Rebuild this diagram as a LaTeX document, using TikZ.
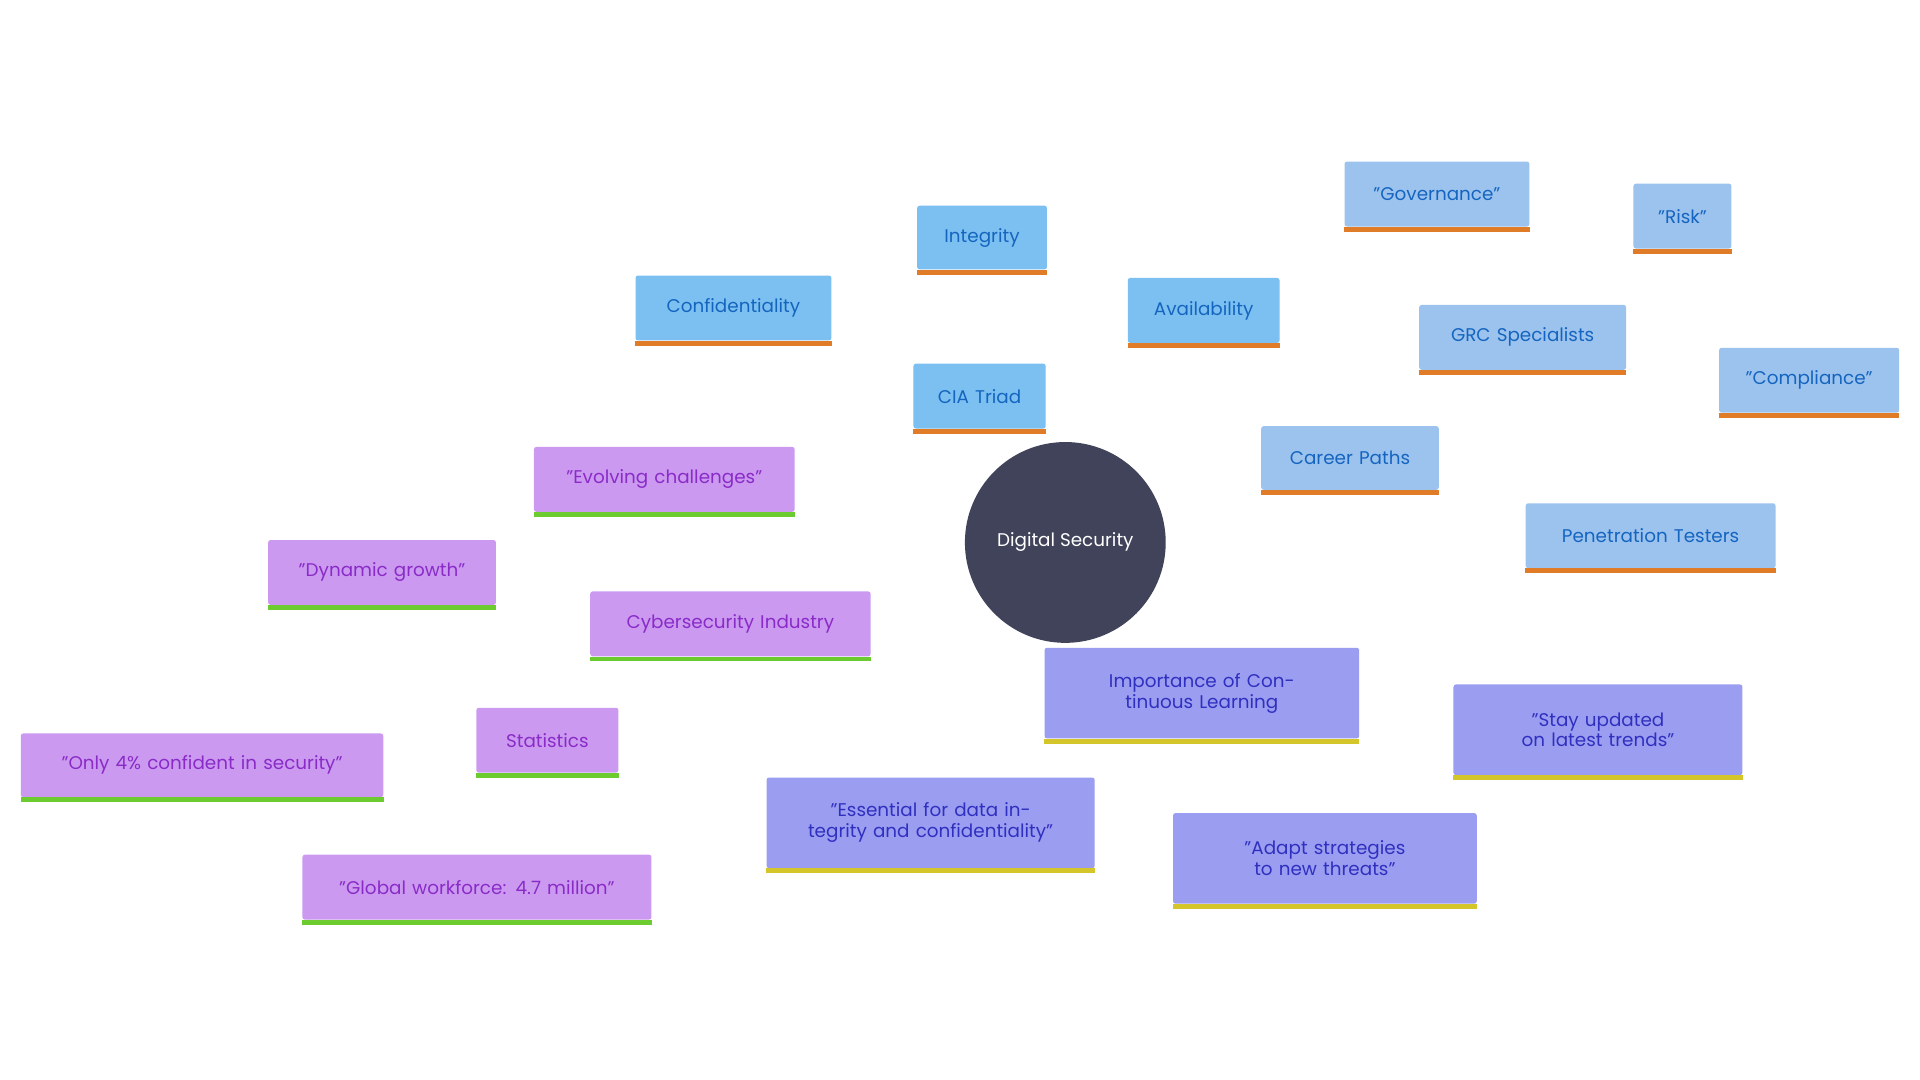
\documentclass[tikz,border=0pt]{standalone}
\usepackage{fontspec}
\setmainfont{Poppins}
\usetikzlibrary{backgrounds}
\definecolor{bA}{HTML}{7BC0F0}\definecolor{tA}{HTML}{1565C0}
\definecolor{bB}{HTML}{9CC3EE}
\definecolor{bP}{HTML}{CB9AF0}\definecolor{tP}{HTML}{8A2BC8}
\definecolor{bI}{HTML}{9B9DF0}\definecolor{tI}{HTML}{3030C0}
\definecolor{uO}{HTML}{E07B28}\definecolor{uG}{HTML}{6CCB2E}\definecolor{uY}{HTML}{D4C62A}
\definecolor{ctr}{HTML}{404359}
\begin{document}
\begin{tikzpicture}[x=1pt,y=-1pt,
 bx/.style={rectangle,rounded corners=2pt,inner sep=0pt,align=center,font=\fontsize{15}{17}\selectfont},
 ln/.style={line width=3.5pt}]
\useasboundingbox[fill=white] (0,0) rectangle (1568,882);
\newcommand\bxn[8]{\node[bx,fill=#6,text=#7,minimum width=#4-#2,minimum height=#5-#3,text width=#4-#2-16] (#1) at ({(#2+#4)/2},{(#3+#5)/2}) {#8};}
\node[circle,fill=ctr,minimum size=164,text=white,font=\fontsize{15}{17}\selectfont] (ds) at (870,443) {Digital Security};
\bxn{conf}{519}{225}{679}{278}{bA}{tA}{Confidentiality}
\bxn{integ}{749}{168}{855}{220}{bA}{tA}{Integrity}
\bxn{avail}{921}{227}{1045}{280}{bA}{tA}{Availability}
\bxn{cia}{746}{297}{854}{350}{bA}{tA}{CIA Triad}
\bxn{gov}{1098}{132}{1249}{185}{bB}{tA}{"Governance"}
\bxn{risk}{1334}{150}{1414}{203}{bB}{tA}{"Risk"}
\bxn{grc}{1159}{249}{1328}{302}{bB}{tA}{GRC Specialists}
\bxn{comp}{1404}{284}{1551}{337}{bB}{tA}{"Compliance"}
\bxn{career}{1030}{348}{1175}{400}{bB}{tA}{Career Paths}
\bxn{pen}{1246}{411}{1450}{464}{bB}{tA}{Penetration Testers}
\bxn{evol}{436}{365}{649}{418}{bP}{tP}{"Evolving challenges"}
\bxn{dyn}{219}{441}{405}{494}{bP}{tP}{"Dynamic growth"}
\bxn{cyber}{482}{483}{711}{536}{bP}{tP}{Cybersecurity Industry}
\bxn{stat}{389}{578}{505}{631}{bP}{tP}{Statistics}
\bxn{only}{17}{599}{313}{651}{bP}{tP}{"Only 4\% confident in security"}
\bxn{glob}{247}{698}{532}{751}{bP}{tP}{"Global workforce: 4.7 million"}
\bxn{imp}{853}{529}{1110}{603}{bI}{tI}{Importance of Continuous Learning}
\bxn{stay}{1187}{559}{1423}{633}{bI}{tI}{"Stay updated on latest trends"}
\bxn{ess}{626}{635}{894}{709}{bI}{tI}{"Essential for data integrity and confidentiality"}
\bxn{adapt}{958}{664}{1206}{738}{bI}{tI}{"Adapt strategies to new threats"}
\foreach \n/\c in {conf/uO,integ/uO,avail/uO,cia/uO,gov/uO,risk/uO,grc/uO,comp/uO,career/uO,pen/uO,evol/uG,dyn/uG,cyber/uG,stat/uG,only/uG,glob/uG,imp/uY,stay/uY,ess/uY,adapt/uY}
  \draw[\c,line width=4pt] ([yshift=-2pt]\n.south west) -- ([yshift=-2pt]\n.south east);
\begin{scope}[on background layer]
\draw[ln,bA] (ds.center)--(cia.center) (cia.center)--(conf.center) (cia.center)--(integ.center) (cia.center)--(avail.center);
\draw[ln,bB] (ds.center)--(career.center) (career.center)--(grc.center) (career.center)--(pen.center) (grc.center)--(gov.center) (grc.center)--(risk.center) (grc.center)--(comp.center);
\draw[ln,bP] (ds.center)--(cyber.center) (cyber.center)--(evol.center) (cyber.center)--(dyn.center) (cyber.center)--(stat.center) (stat.center)--(only.center) (stat.center)--(glob.center);
\draw[ln,bI] (ds.center)--(imp.center) (imp.center)--(stay.center) (imp.center)--(ess.center) (imp.center)--(adapt.center);
\end{scope}
\end{tikzpicture}
\end{document}
